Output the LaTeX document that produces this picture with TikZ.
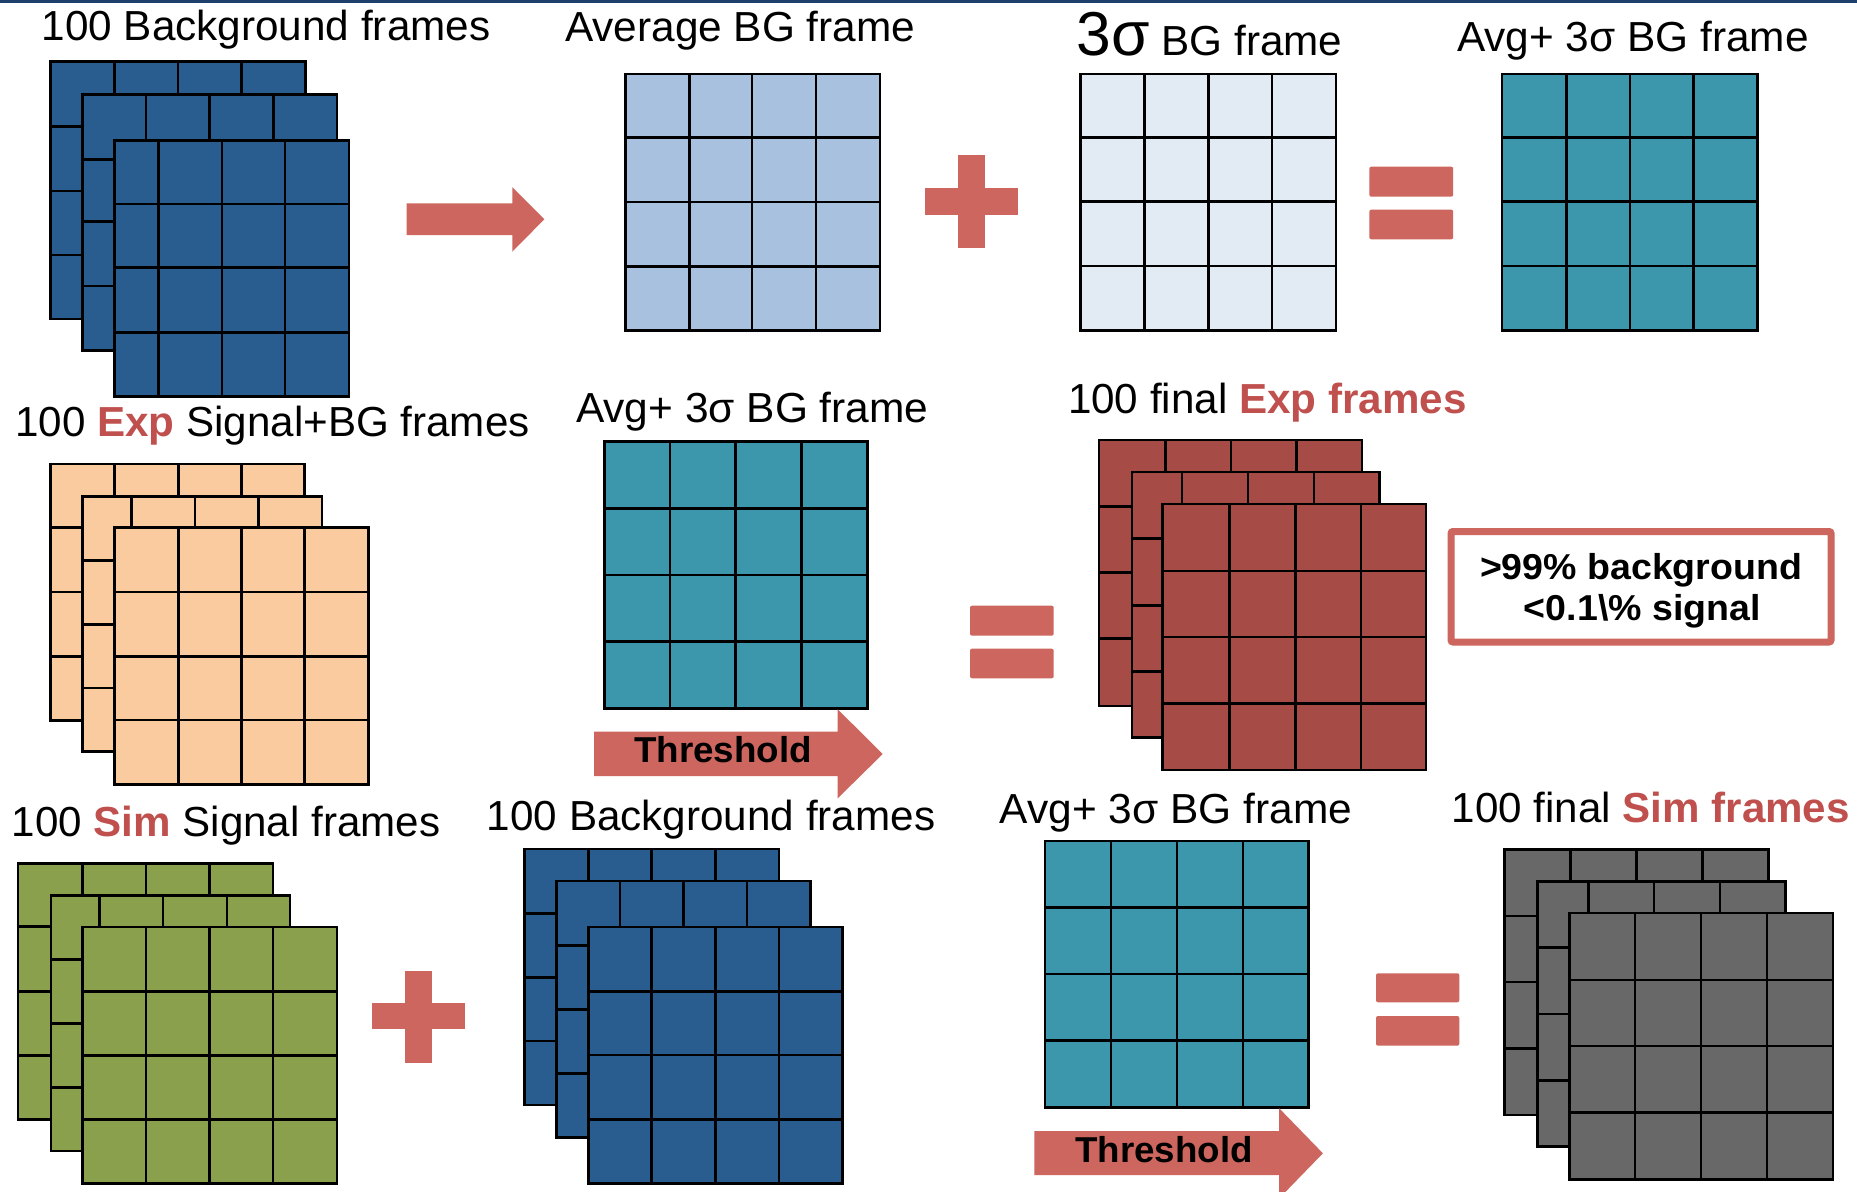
\documentclass[tikz,border=0pt]{standalone}
\usepackage{fontspec}
\setmainfont{Liberation Sans}
\usepackage{graphicx}
\definecolor{navy}{RGB}{28,63,110}
\definecolor{salmon}{RGB}{205,102,94}
\definecolor{expred}{RGB}{192,80,77}
\definecolor{bgblue}{RGB}{41,93,143}
\definecolor{avgblue}{RGB}{167,193,223}
\definecolor{sigblue}{RGB}{226,234,244}
\definecolor{teal}{RGB}{60,151,172}
\definecolor{peach}{RGB}{251,203,160}
\definecolor{redfr}{RGB}{166,75,69}
\definecolor{greenfr}{RGB}{138,160,76}
\definecolor{grayfr}{RGB}{104,104,104}
\tikzset{
  gl/.style={line width=2.6pt, draw=black, line join=miter},
  lbl/.style={anchor=base west, inner sep=0pt, font=\fontsize{42}{48}\selectfont},
  blbl/.style={anchor=base west, inner sep=0pt, font=\fontsize{36}{42}\selectfont\bfseries},
  shp/.style={fill=salmon, draw=none},
}
% #1 fill, #2 x0, #3 y0, #4 x4, #5 y4, #6 inner xs, #7 inner ys
\newcommand\gfr[7]{%
  \fill[#1] (#2,#3) rectangle (#4,#5);
  \foreach \xx in {#6} {\draw[gl] (\xx,#3) -- (\xx,#5);}
  \foreach \yy in {#7} {\draw[gl] (#2,\yy) -- (#4,\yy);}
  \draw[gl] (#2,#3) rectangle (#4,#5);
}
\newcommand\lab[5]{\node[lbl] (#1) at (#2,#3) {\resizebox{#4pt}{\height}{#5}};}
\newcommand\blab[5]{\node[blbl] (#1) at (#2,#3) {\resizebox{#4pt}{\height}{#5}};}
\begin{document}
\begin{tikzpicture}[x=1pt,y=-1pt]
\useasboundingbox (0,0) rectangle (1857,1191);
\clip (0,0) rectangle (1857,1191);
\fill[white] (0,0) rectangle (1857,1191);
\fill[navy] (0,0) rectangle (1857,3);

% ---- Row 1 ----
% BG stack top-left
\gfr{bgblue}{50.2}{61.7}{305.3}{319}{114.3,177.9,241.2}{126.7,191,255}
\gfr{bgblue}{82.2}{94.3}{336.9}{350.7}{145.9,209.6,273.2}{159.3,221.7,286}
\gfr{bgblue}{114.3}{140.3}{349.1}{396.7}{158.6,221.8,285.1}{204,267.7,332.7}
% arrow
\fill[shp] (406.7,203.3) -- (512.3,203.3) -- (512.3,187.3) -- (544.3,219.3) -- (512.3,251.7) -- (512.3,235) -- (406.7,235) -- cycle;
% average frame
\gfr{avgblue}{625.3}{74}{880}{330.7}{689.3,752,816}{137.3,202,266.7}
% plus
\fill[shp] (958.3,155) rectangle (985,248.3);
\fill[shp] (925,188.3) rectangle (1017.7,215);
% 3 sigma frame
\gfr{sigblue}{1080.6}{74}{1336}{330.7}{1144.7,1208.3,1271.9}{137.3,201.7,266}
% equals
\fill[shp, rounded corners=2pt] (1369.3,166.7) rectangle (1453.2,196.7);
\fill[shp, rounded corners=2pt] (1369.3,209.7) rectangle (1453.2,239.3);
% avg+3sigma
\gfr{teal}{1502.1}{74}{1757.5}{330.7}{1566.2,1629.8,1693.3}{137.3,201.7,266}

% ---- Row 2 ----
\gfr{peach}{50.7}{464}{304.7}{720.7}{114.3,178.3,241.3}{527.7,592,656.3}
\gfr{peach}{82.7}{496.3}{322}{751.7}{131.7,195,258.7}{560.3,624.3,688}
\gfr{peach}{114.3}{527.7}{368.7}{784.3}{178.3,241.3,304.7}{592,656.3,720}
% teal middle
\gfr{teal}{604.3}{441.7}{867.3}{708.3}{670,735.7,801.7}{508.7,575,641.7}
% threshold arrow middle
\fill[shp] (594,731.7) -- (837.7,731.7) -- (837.7,709.3) -- (882.7,754) -- (837.7,798.3) -- (837.7,776) -- (594,776) -- cycle;
% equals middle
\fill[shp, rounded corners=2pt] (970,605.7) rectangle (1053.7,635.7);
\fill[shp, rounded corners=2pt] (970,648.7) rectangle (1053.7,678.3);
% red stack
\gfr{redfr}{1099}{440}{1362}{706}{1165.5,1230.8,1296.7}{506.7,572.7,638.7}
\gfr{redfr}{1131.9}{472}{1379.7}{737.7}{1182,1247.9,1313.8}{538.7,605.3,671.7}
\gfr{redfr}{1162.4}{504}{1426.1}{770}{1229.6,1295.5,1360.8}{571,637,703.3}
% text box
\draw[salmon, line width=7pt, rounded corners=2pt] (1451,531.5) rectangle (1831,642);

% ---- Row 3 ----
\gfr{greenfr}{18}{863.3}{272.9}{1119.3}{82.3,145.8,209.3}{926.7,991.3,1055.3}
\gfr{greenfr}{50.9}{895.7}{290.1}{1151}{99.5,163,227}{959.3,1023.7,1087.7}
\gfr{greenfr}{82.3}{927}{336.8}{1183.3}{145.8,209.3,272.9}{991.3,1055.3,1119.3}
% plus bottom
\fill[shp] (404.9,970.7) rectangle (432.4,1062.7);
\fill[shp] (372,1003.3) rectangle (465,1029.3);
% BG stack bottom
\gfr{bgblue}{524.3}{849}{779}{1105}{588.3,651.7,715.7}{913.3,977.3,1041}
\gfr{bgblue}{556.7}{881}{810.7}{1137.3}{620,683.3,747}{945.3,1009.3,1073.3}
\gfr{bgblue}{588.3}{927}{842.7}{1183.3}{651.7,715.7,779}{991.3,1055,1119.3}
% teal bottom
\gfr{teal}{1044.9}{841}{1308.3}{1107.7}{1110.9,1176.9,1242.9}{907.7,974,1040.3}
% threshold arrow bottom
\fill[shp] (1034.3,1131) -- (1279.2,1131) -- (1279.2,1108.3) -- (1322.9,1153.3) -- (1279.2,1198.3) -- (1279.2,1175) -- (1034.3,1175) -- cycle;
% equals bottom
\fill[shp, rounded corners=2pt] (1376,973.3) rectangle (1459.3,1002.3);
\fill[shp, rounded corners=2pt] (1376,1016) rectangle (1459.3,1045.7);
% gray stack
\gfr{grayfr}{1504.6}{849.3}{1768.6}{1115}{1570.6,1636.6,1702.6}{916,982,1048.3}
\gfr{grayfr}{1537.6}{881.3}{1785.4}{1146.7}{1588.5,1654,1720}{947.7,1014,1080.7}
\gfr{grayfr}{1569.5}{913}{1832.9}{1179.3}{1635,1701,1767}{980,1046,1112.3}

% ---- Labels ----
\lab{tbg}{41.5}{40.5}{448.8}{100 Background frames}
\lab{tavg}{565}{41.7}{350}{Average BG frame}
\lab{tsig}{1076.5}{55}{265.7}{{\fontsize{62}{62}\selectfont 3σ} BG frame}
\lab{tavgsig}{1456.8}{51.7}{351.7}{Avg+ 3σ BG frame}
\lab{texp}{15}{436.7}{514.4}{100 \textcolor{expred}{\bfseries Exp} Signal+BG frames}
\lab{tavgsigm}{576}{422.3}{352.3}{Avg+ 3σ BG frame}
\lab{tfinexp}{1067.8}{413.3}{398.6}{100 final \textcolor{expred}{\bfseries Exp frames}}
\blab{tbox1}{1479.8}{579}{322.2}{>99\% background}
\blab{tbox2}{1523.7}{620.7}{236.8}{<0.1\textbackslash\% signal}
\blab{tthr1}{634}{762.7}{177.7}{Threshold}
\lab{tsim}{11.5}{836}{428.5}{100 \textcolor{expred}{\bfseries Sim} Signal frames}
\lab{tbg2}{486.7}{830.7}{448.3}{100 Background frames}
\lab{tavgsigb}{999.6}{823.3}{352.3}{Avg+ 3σ BG frame}
\lab{tfinsim}{1451.5}{822.3}{398.2}{100 final \textcolor{expred}{\bfseries Sim frames}}
\blab{tthr2}{1075}{1162.3}{177.4}{Threshold}
\end{tikzpicture}
\end{document}
